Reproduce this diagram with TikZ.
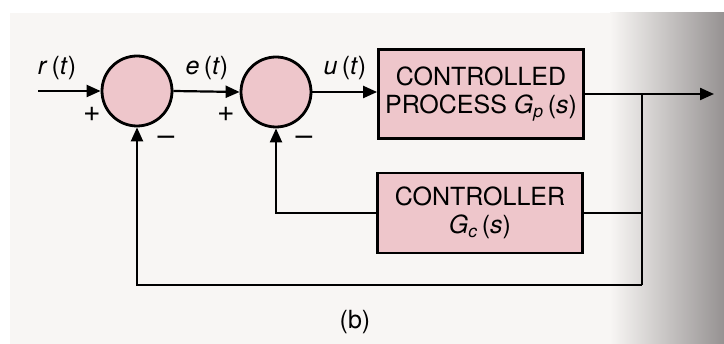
\documentclass[tikz,border=0pt]{standalone}
\usepackage{fontspec}
\setmainfont{TeX Gyre Heros}
\usetikzlibrary{positioning, arrows.meta, calc}
\definecolor{blockpink}{RGB}{238, 198, 203}
\definecolor{paper}{RGB}{248, 246, 244}
\definecolor{shadow}{RGB}{150, 146, 146}
\newcommand{\sig}[2]{\textit{#1}\,(\textit{#2})}
\newcommand{\tf}[1]{\textit{G}\textsubscript{\textit{#1}}\,(\textit{s})}

\begin{document}
\begin{tikzpicture}[x=1pt, y=-1pt,
        font=\fontsize{25}{28}\selectfont,
        sumnode/.style={circle, draw, line width=2.8pt, fill=blockpink, minimum size=70pt, inner sep=0pt},
        blockbox/.style={draw, line width=2.8pt, fill=blockpink, minimum width=205pt, align=center, inner sep=4pt},
        signlabel/.style={font=\fontsize{30}{30}\selectfont},
        sigline/.style={line width=2.2pt},
        sigarrow/.style={sigline, -{Triangle[length=14pt, width=12pt]}}]
        \useasboundingbox (0,0) rectangle (724,344);
        % paper and page shadow
        \fill[paper] (10,13) rectangle (724,344);
        \shade[left color=paper, middle color=paper!82!shadow, right color=shadow] (610,13) rectangle (724,344);

        % blocks
        \node[sumnode] (sumr) at (137,91) {};
        \node[sumnode] (sume) at (276,92) {};
        \node[blockbox, minimum height=89pt] (plant) at (481,94) {CONTROLLED\\PROCESS \tf{p}};
        \node[blockbox, minimum height=80pt] (ctrl) at (480,213) {CONTROLLER\\\tf{c}};

        % points of the loops
        \coordinate (in) at (38,91);
        \coordinate (out) at (714,94);
        \coordinate (branch) at (642,94);
        \coordinate (corner) at (642,285);

        % forward path
        \draw[sigarrow] (in) -- (sumr.west);
        \draw[sigarrow] (sumr.east) -- (sume.west);
        \draw[sigarrow] (sume.east) -- (sume.east -| plant.west);
        \draw[sigarrow] (plant.east) -- (out);

        % feedback paths
        \draw[sigline] (branch) -- (corner);
        \draw[sigline] (branch |- ctrl.east) -- (ctrl.east);
        \draw[sigarrow] (ctrl.west) -| (sume.south);
        \draw[sigarrow] (corner) -| (sumr.south);

        % labels
        \node (lr) at (57,68) {\sig{r}{t}};
        \node (le) at (207,68) {\sig{e}{t}};
        \node (lu) at (345,68) {\sig{u}{t}};
        \node[signlabel] (pr) at (92,114) {+};
        \node[signlabel] (pe) at (226,114) {+};
        \node[signlabel] (mr) at (166,141) {--};
        \node[signlabel] (me) at (304,141) {--};
        \node (cap) at (355,322) {(b)};
\end{tikzpicture}
\end{document}
